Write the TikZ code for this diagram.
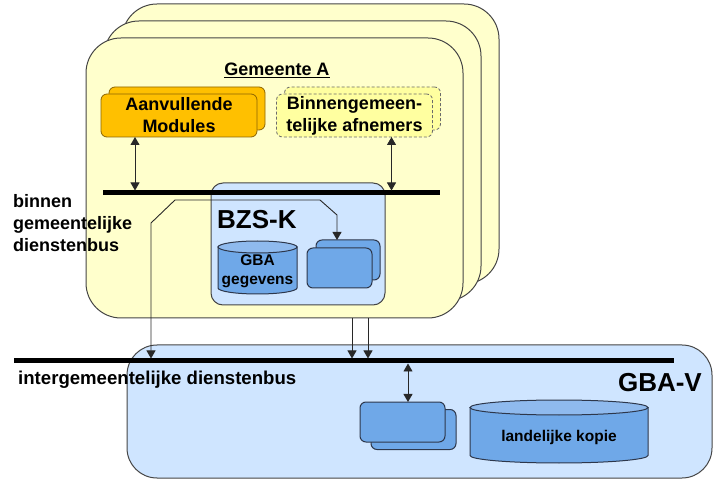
\documentclass[tikz,border=0pt]{standalone}
\usepackage{fontspec}
\setmainfont{Liberation Sans}
\usetikzlibrary{arrows.meta}

\definecolor{gemyellow}{RGB}{255,255,204}
\definecolor{afnyellow}{RGB}{255,255,160}
\definecolor{modorange}{RGB}{255,192,0}
\definecolor{modborder}{RGB}{140,100,0}
\definecolor{framegray}{RGB}{70,70,70}
\definecolor{lightblue}{RGB}{207,229,255}
\definecolor{midblue}{RGB}{111,168,232}
\definecolor{topblue}{RGB}{143,186,238}
\definecolor{darkblue}{RGB}{45,55,75}
\definecolor{linkgray}{RGB}{40,40,40}

\tikzset{
  gemframe/.style={draw=framegray, line width=1pt, fill=gemyellow, rounded corners=35pt,
    minimum width=377pt, minimum height=280pt, inner sep=0pt, outer sep=0pt},
  modbox/.style={draw=modborder, line width=0.8pt, fill=modorange, rounded corners=6pt,
    minimum width=156pt, minimum height=43pt, inner sep=0pt, outer sep=0pt, align=center,
    font=\bfseries\fontsize{18}{22}\selectfont},
  afnbox/.style={modbox, draw=framegray!80, dash pattern=on 3pt off 2pt, fill=afnyellow},
  blueframe/.style={draw=framegray, line width=1pt, fill=lightblue, inner sep=0pt, outer sep=0pt},
  appbox/.style={draw=darkblue, line width=1pt, fill=midblue, rounded corners=6pt,
    inner sep=0pt, outer sep=0pt},
  dbbody/.style={draw=darkblue, line width=1pt, fill=midblue},
  dbtop/.style={draw=darkblue, line width=1pt, fill=topblue},
  dbtext/.style={inner sep=0pt, align=center, font=\bfseries\fontsize{15.5}{19}\selectfont},
  bus/.style={line width=5pt},
  link/.style={draw=linkgray, line width=0.9pt, -{Triangle[length=8pt,width=9pt]}},
  duplex/.style={link, {Triangle[length=8pt,width=9pt]}-{Triangle[length=8pt,width=9pt]}},
  buslabel/.style={font=\bfseries\fontsize{18}{22}\selectfont, inner sep=0pt, align=left},
}

\begin{document}
\begin{tikzpicture}[x=1pt,y=-1pt]
  \useasboundingbox[fill=white] (0,0) rectangle (713,481);

  % Drawing the three municipality frames
  \node [gemframe] (gemback) at (310.5,144) {};%
  \node [gemframe] (gemmid) at (292.5,161) {};%
  \node [gemframe] (gemfront) at (274.5,178) {};%
  \node [buslabel] (gemtitle) at (277,70) {\underline{Gemeente A}};%

  % Drawing the module boxes
  \node [modbox] (aanvback) at (187,108.5) {};%
  \node [modbox] (aanv) at (179,115.5) {Aanvullende\\Modules};%
  \node [afnbox] (binnback) at (362.5,108.5) {};%
  \node [afnbox] (binn) at (354.5,115.5) {Binnengemeen-\\telijke afnemers};%

  % Drawing BZS-K
  \node [blueframe, rounded corners=12pt, minimum width=174pt, minimum height=122pt]
    (bzs) at (298,244) {};%
  \node [anchor=west, inner sep=0pt, font=\bfseries\fontsize{26}{30}\selectfont]
    (bzstitle) at (217,220) {BZS-K};%
  % Drawing cylinder GBA gegevens
  \draw [dbbody] (218,247) -- (218,288) arc [start angle=180, end angle=360, x radius=39.5pt, y radius=6pt]
    -- (297,247) -- cycle;%
  \draw [dbtop] (257.5,247) ellipse [x radius=39.5pt, y radius=6pt];%
  \node [dbtext] (gbadata) at (257.5,271) {GBA\\gegevens};%
  \node [appbox, minimum width=64pt, minimum height=40pt] (bzsback) at (348,260) {};%
  \node [appbox, minimum width=65pt, minimum height=40pt] (bzsfront) at (339.5,268) {};%

  % Drawing segment binnen gemeentelijke dienstenbus
  \coordinate (binL) at (103,193);%
  \coordinate (binR) at (440,193);%
  \draw [bus] (binL) -- (binR);%
  \node [buslabel, anchor=west] (binlabel) at (13,223) {binnen\\gemeentelijke\\dienstenbus};%

  % Drawing links to the binnen bus
  \draw [duplex, shorten >=2.5pt] ([xshift=34pt]aanv.south west) -- ([xshift=34pt]aanv.south west |- binL);%
  \draw [duplex, shorten >=2.5pt] ([xshift=-41pt]binn.south east) -- ([xshift=-41pt]binn.south east |- binL);%

  % Drawing GBA-V
  \node [blueframe, rounded corners=30pt, minimum width=585pt, minimum height=133pt]
    (gbav) at (419.5,411.5) {};%
  \node [anchor=east, inner sep=0pt, font=\bfseries\fontsize{26}{30}\selectfont]
    (gbavtitle) at (702,383) {GBA-V};%
  \node [appbox, minimum width=85pt, minimum height=40pt] (gbaback) at (413.5,429.5) {};%
  \node [appbox, minimum width=85pt, minimum height=40pt] (gbafront) at (402.5,422) {};%
  % Drawing cylinder landelijke kopie
  \draw [dbbody] (470,407.5) -- (470,455.5) arc [start angle=180, end angle=360, x radius=89pt, y radius=7.5pt]
    -- (648,407.5) -- cycle;%
  \draw [dbtop] (559,407.5) ellipse [x radius=89pt, y radius=7.5pt];%
  \node [dbtext] (landkopie) at (559,437) {landelijke kopie};%

  % Drawing segment intergemeentelijke dienstenbus
  \coordinate (intL) at (14,361);%
  \coordinate (intR) at (674,361);%
  \coordinate (intA) at (151,361);%
  \draw [bus] (intL) -- (intR);%
  \node [buslabel, anchor=west, font=\bfseries\fontsize{18.6}{22}\selectfont]
    (intlabel) at (18,380) {intergemeentelijke dienstenbus};%

  % Drawing links to the intergemeentelijke bus
  \draw [duplex, shorten <=2.5pt] (intA) -- (151,223) -- (175,200) -- (320,200) -- (337,215)
    -- ([xshift=-11pt]bzsback.north);%
  \draw [link, shorten >=2.5pt] ([xshift=77.5pt]gemfront.south) -- ([xshift=77.5pt]gemfront.south |- intL);%
  \draw [link, shorten >=2.5pt] ([xshift=93.5pt]gemfront.south) -- ([xshift=93.5pt]gemfront.south |- intL);%
  \draw [duplex, shorten <=2.5pt] ([xshift=5.5pt]gbafront.north |- intL) -- ([xshift=5.5pt]gbafront.north);%
\end{tikzpicture}
\end{document}
